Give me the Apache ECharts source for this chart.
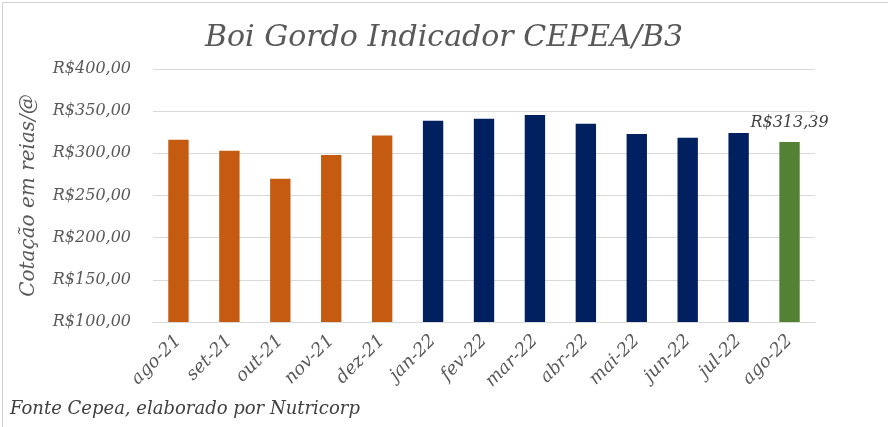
<!DOCTYPE html>
<html><head><meta charset="utf-8">
<script src="https://cdn.jsdelivr.net/npm/echarts@6/dist/echarts.min.js"></script>
<style>html,body{margin:0;padding:0;background:#fff}#c{width:888px;height:427px}</style>
</head><body><div id="c"></div>
<script>
const categories = ['ago-21','set-21','out-21','nov-21','dez-21','jan-22','fev-22','mar-22','abr-22','mai-22','jun-22','jul-22','ago-22'];
const values = [316, 303, 270, 298, 321, 338.5, 341, 345.5, 335, 323, 318.5, 324, 313.39];
const colors = ['#C55A11','#C55A11','#C55A11','#C55A11','#C55A11','#002060','#002060','#002060','#002060','#002060','#002060','#002060','#548235'];
const yTicks = {min:100, max:400, interval:50};
const FONT = 'DejaVu Serif';
const fmt = v => 'R$' + Number(v).toFixed(2).replace('.', ',');
const chart = echarts.init(document.getElementById('c'));
chart.setOption({
  animation:false,
  backgroundColor:'#fff',
  title:{text:'Boi Gordo Indicador CEPEA/B3', left:'center', top:18,
    textStyle:{fontFamily:FONT, fontStyle:'italic', fontWeight:'normal', fontSize:30, color:'#595959'}},
  grid:{left:153, right:73, top:69, bottom:105},
  xAxis:{type:'category', data:categories,
    axisLine:{lineStyle:{color:'#d9d9d9'}}, axisTick:{show:false},
    axisLabel:{rotate:45, interval:0, margin:16, fontFamily:FONT, fontStyle:'italic', fontSize:18, color:'#595959'}},
  yAxis:{type:'value', min:yTicks.min, max:yTicks.max, interval:yTicks.interval,
    name:'Cotação em reias/@', nameLocation:'middle', nameGap:114, nameRotate:90,
    nameTextStyle:{fontFamily:FONT, fontStyle:'italic', fontSize:20, color:'#595959'},
    axisLine:{show:false}, axisTick:{show:false},
    splitLine:{lineStyle:{color:'#d9d9d9'}},
    axisLabel:{formatter:fmt, margin:22, fontFamily:FONT, fontStyle:'italic', fontSize:16, color:'#595959'}},
  series:[{type:'bar', barWidth:'40%',
    data: values.map((v,i)=>({value:v, itemStyle:{color:colors[i]},
      label: i===values.length-1 ? {show:true, position:'top', distance:11, formatter:p=>fmt(p.value),
        fontFamily:FONT, fontStyle:'italic', fontSize:16, color:'#404040'} : {show:false}}))
  }],
  graphic:[
    {type:'rect', left:0, top:0, shape:{width:887, height:426}, style:{fill:'none', stroke:'#d0d0d0', lineWidth:1}, silent:true},
    {type:'text', left:10, top:400, style:{text:'Fonte Cepea, elaborado por Nutricorp', font:'italic 18px "DejaVu Serif"', fill:'#404040'}}
  ]
});
</script></body></html>
